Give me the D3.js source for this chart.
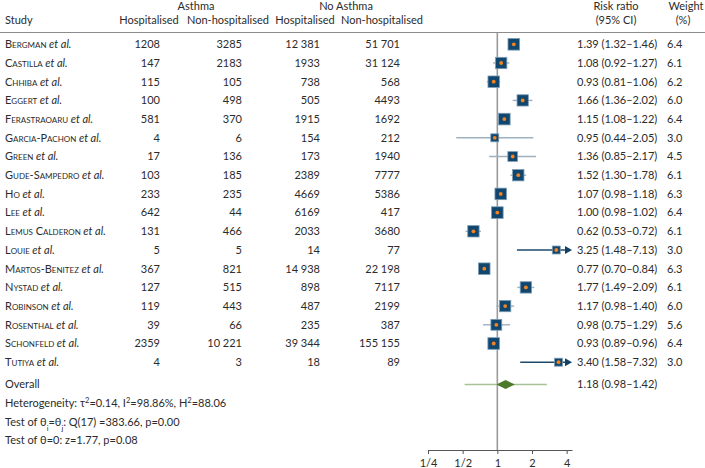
<!DOCTYPE html>
<html><head><meta charset="utf-8">
<script src="https://cdn.jsdelivr.net/npm/d3@7"></script>
<style>
body{margin:0;background:#fff;}
svg text{font-family:Lato, "Noto Sans", sans-serif;font-size:11px;fill:#2b2b2b;}
</style></head>
<body><svg id="c" width="705" height="468"></svg>
<script>
const studies = ["Bergman","Castilla","Chhiba","Eggert","Ferastraoaru","Garcia-Pachon","Green","Gude-Sampedro","Ho","Lee","Lemus Calderon","Louie","Martos-Benitez","Nystad","Robinson","Rosenthal","Schonfeld","Tutiya"];
const asthmaHosp = ["1208","147","115","100","581","4","17","103","233","642","131","5","367","127","119","39","2359","4"];
const asthmaNonHosp = ["3285","2183","105","498","370","6","136","185","235","44","466","5","821","515","443","66","10 221","3"];
const noAsthmaHosp = ["12 381","1933","738","505","1915","154","173","2389","4669","6169","2033","14","14 938","898","487","235","39 344","18"];
const noAsthmaNonHosp = ["51 701","31 124","568","4493","1692","212","1940","7777","5386","417","3680","77","22 198","7117","2199","387","155 155","89"];
const rr = [1.39,1.08,0.93,1.66,1.15,0.95,1.36,1.52,1.07,1.00,0.62,3.25,0.77,1.77,1.17,0.98,0.93,3.40];
const lo = [1.32,0.92,0.81,1.36,1.08,0.44,0.85,1.30,0.98,0.98,0.53,1.48,0.70,1.49,0.98,0.75,0.89,1.58];
const hi = [1.46,1.27,1.06,2.02,1.22,2.05,2.17,1.78,1.18,1.02,0.72,7.13,0.84,2.09,1.40,1.29,0.96,7.32];
const weights = ["6.4","6.1","6.2","6.0","6.4","3.0","4.5","6.1","6.3","6.4","6.1","3.0","6.3","6.1","6.0","5.6","6.4","3.0"];
const overall = {est:1.18, lo:0.98, hi:1.42, piLo:0.52, piHi:2.69};
const tickValues = [0.25,0.5,1,2,4];
const tickLabels = ["1/4","1/2","1","2","4"];
const footLines = [
  ["Heterogeneity: \u03c4", {sup:"2"}, "=0.14, I", {sup:"2"}, "=98.86%, H", {sup:"2"}, "=88.06"],
  ["Test of \u03b8", {sub:"i"}, "=\u03b8", {sub:"j"}, ": Q(17) =383.66, p=0.00"],
  ["Test of \u03b8=0: z=1.77, p=0.08"]
];

const fmt = d3.format(".2f");
const svg = d3.select("#c");
const x = d3.scaleLog().base(2).domain([0.25, 4.45]).range([428, 572]);
const y = d3.scaleLinear().domain([0, 17]).range([44.3, 362.2]);
const xMax = x.domain()[1];

// headers
const hdr = svg.append("g");
hdr.append("text").attr("x",196).attr("y",10).attr("text-anchor","middle").text("Asthma");
hdr.append("text").attr("x",346).attr("y",10).attr("text-anchor","middle").text("No Asthma");
hdr.append("text").attr("x",616).attr("y",10).attr("text-anchor","middle").text("Risk ratio");
hdr.append("text").attr("x",686).attr("y",10).attr("text-anchor","middle").text("Weight");
hdr.append("text").attr("x",5).attr("y",24).text("Study");
[[149,"Hospitalised"],[228,"Non-hospitalised"],[305,"Hospitalised"],[382,"Non-hospitalised"],[616,"(95% CI)"],[683,"(%)"]]
  .forEach(([cx,t])=>hdr.append("text").attr("x",cx).attr("y",24).attr("text-anchor","middle").text(t));
svg.append("line").attr("x1",0).attr("x2",705).attr("y1",32.5).attr("y2",32.5).attr("stroke","#8c8c8c").attr("stroke-width",1);

// reference line at 1
svg.append("line").attr("x1",x(1)).attr("x2",x(1)).attr("y1",33).attr("y2",450).attr("stroke","#9a9a9a").attr("stroke-width",1.6);

// rows
const rows = svg.append("g").selectAll("g").data(studies).join("g")
  .attr("transform",(d,i)=>`translate(0,${y(i)})`);
const nameT = rows.append("text").attr("x",5).attr("dy","0.35em");
nameT.append("tspan").style("font-variant","small-caps").text(d=>d);
nameT.append("tspan").style("font-style","italic").text(" et al.");
const cols = [[160,asthmaHosp],[242,asthmaNonHosp],[320,noAsthmaHosp],[400,noAsthmaNonHosp]];
cols.forEach(([cx,arr])=>rows.append("text").attr("x",cx).attr("dy","0.35em").attr("text-anchor","end").text((d,i)=>arr[i]));
rows.append("text").attr("x",577).attr("dy","0.35em").text((d,i)=>`${fmt(rr[i])} (${fmt(lo[i])}\u2013${fmt(hi[i])})`);
rows.append("text").attr("x",667).attr("dy","0.35em").text((d,i)=>weights[i]);

// CI lines
rows.append("line")
  .attr("x1",(d,i)=>x(lo[i])).attr("x2",(d,i)=>hi[i]>xMax ? x(xMax)-5 : x(hi[i]))
  .attr("stroke",(d,i)=>hi[i]>xMax ? "#1c4a6c" : "#9eb1c0").attr("stroke-width",1.4);
rows.filter((d,i)=>hi[i]>xMax).append("path")
  .attr("d",()=>{const t=x(xMax);return `M${t-7},-4L${t},0L${t-7},4Z`;}).attr("fill","#123f63");
// squares
rows.append("rect")
  .attr("x",(d,i)=>x(rr[i]) - 2.3*Math.sqrt(+weights[i]))
  .attr("y",(d,i)=>-2.3*Math.sqrt(+weights[i]))
  .attr("width",(d,i)=>4.6*Math.sqrt(+weights[i]))
  .attr("height",(d,i)=>4.6*Math.sqrt(+weights[i]))
  .attr("fill","#11476f").attr("stroke","#7d9db6").attr("stroke-width",0.8);
rows.append("circle").attr("cx",(d,i)=>x(rr[i])).attr("cy",0).attr("r",1.9).attr("fill","#f5831f");

// overall
const oy = 384.5;
svg.append("text").attr("x",5).attr("y",oy).attr("dy","0.35em").text("Overall");
svg.append("line").attr("x1",x(overall.piLo)).attr("x2",x(overall.piHi)).attr("y1",oy).attr("y2",oy).attr("stroke","#a8c197").attr("stroke-width",1.4);
svg.append("path").attr("d",`M${x(overall.lo)},${oy}L${x(overall.est)},${oy-4.5}L${x(overall.hi)},${oy}L${x(overall.est)},${oy+4.5}Z`).attr("fill","#4c7a2b");
svg.append("text").attr("x",577).attr("y",oy).attr("dy","0.35em").text(`${fmt(overall.est)} (${fmt(overall.lo)}\u2013${fmt(overall.hi)})`);

// footer
footLines.forEach((parts,k)=>{
  const t = svg.append("text").attr("x",5).attr("y",403.5+k*18.5).attr("dy","0.35em");
  parts.forEach(p=>{
    if (typeof p === "string") t.append("tspan").text(p);
    else if (p.sup) t.append("tspan").style("baseline-shift","super").style("font-size","7.5px").text(p.sup);
    else if (p.sub) t.append("tspan").style("baseline-shift","sub").style("font-size","7.5px").text(p.sub);
  });
});

// axis
const axis = d3.axisBottom(x).tickValues(tickValues).tickFormat((d,i)=>tickLabels[i]).tickSize(4).tickSizeOuter(0);
const ag = svg.append("g").attr("transform","translate(0,450)").call(axis);
ag.select(".domain").attr("stroke","#555");
ag.selectAll(".tick line").attr("stroke","#555");
ag.selectAll(".tick text").attr("font-family",null).attr("font-size",null).style("font-size","11px").attr("dy","0.9em").attr("fill","#2b2b2b");
</script></body></html>
